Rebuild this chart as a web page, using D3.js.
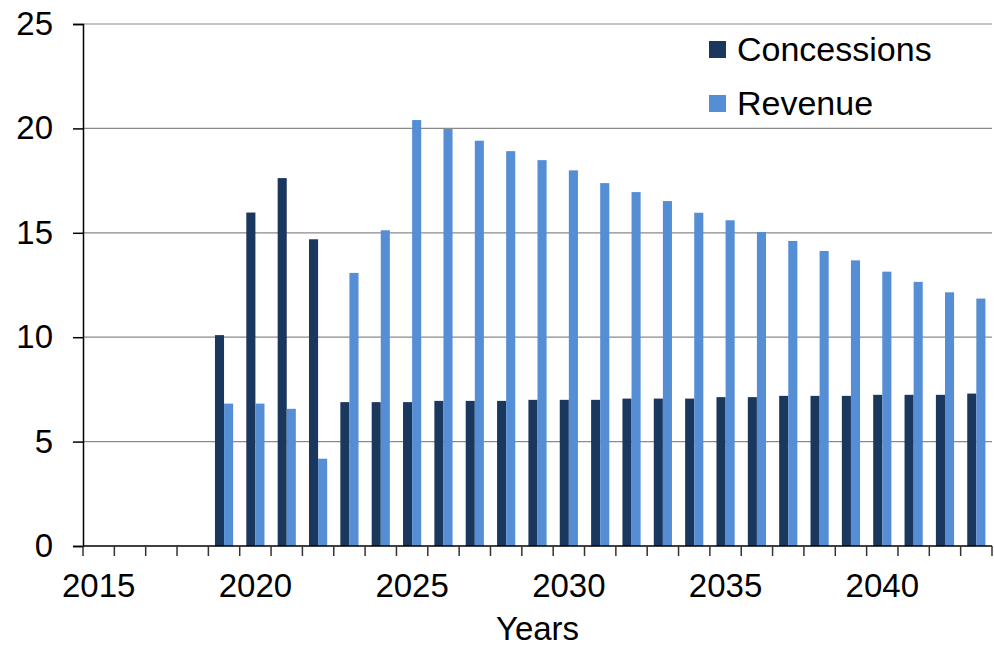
<!DOCTYPE html>
<html>
<head>
<meta charset="utf-8">
<script src="https://cdn.jsdelivr.net/npm/d3@7"></script>
<style>
  body { margin: 0; background: #fff; }
  svg text { font-family: "Liberation Sans", Arial, sans-serif; fill: #000; }
</style>
</head>
<body>
<svg id="chart"></svg>
<script>
const years = d3.range(2015, 2044);
const concessions = [null, null, null, null, 10.1, 15.97, 17.62, 14.69, 6.89, 6.89,
  6.89, 6.95, 6.95, 6.95, 7.0, 7.0, 7.0, 7.06, 7.06, 7.06,
  7.13, 7.13, 7.19, 7.19, 7.19, 7.24, 7.24, 7.24, 7.3];
const revenue = [null, null, null, null, 6.82, 6.82, 6.57, 4.18, 13.08, 15.12,
  20.4, 19.97, 19.41, 18.91, 18.48, 17.99, 17.38, 16.95, 16.52, 15.96,
  15.6, 15.04, 14.61, 14.13, 13.68, 13.14, 12.65, 12.15, 11.85];
const yTicks = [0, 5, 10, 15, 20, 25];
const xLabels = [2015, 2020, 2025, 2030, 2035, 2040];
const seriesNames = ["Concessions", "Revenue"];
const colors = ["#1a375e", "#558ed5"];

function drawChart() {
  const width = 994, height = 648;
  const margin = { top: 24, right: 2, bottom: 102, left: 83 };
  const innerW = width - margin.left - margin.right;
  const innerH = height - margin.top - margin.bottom;

  const svg = d3.select("#chart").attr("width", width).attr("height", height);
  const g = svg.append("g").attr("transform", `translate(${margin.left},${margin.top})`);

  const x = d3.scaleBand().domain(years).range([0, innerW]).padding(0);
  const y = d3.scaleLinear().domain([0, 25]).range([innerH, 0]);
  const bw = x.bandwidth() * 0.29;

  // gridlines
  g.append("g").selectAll("line")
    .data(yTicks.filter(d => d > 0))
    .join("line")
    .attr("x1", 0).attr("x2", innerW)
    .attr("y1", d => y(d)).attr("y2", d => y(d))
    .attr("stroke", "#8a8a8a").attr("stroke-width", 1.2);

  // bars
  const rows = years.map((yr, i) => ({ year: yr, vals: [concessions[i], revenue[i]] }));
  const groups = g.append("g").selectAll("g")
    .data(rows)
    .join("g")
    .attr("transform", d => `translate(${x(d.year) + x.bandwidth() / 2},0)`);
  groups.selectAll("rect")
    .data(d => d.vals.map((v, k) => ({ v, k })).filter(e => e.v != null))
    .join("rect")
    .attr("x", e => e.k === 0 ? -bw : 0)
    .attr("width", bw)
    .attr("y", e => y(e.v))
    .attr("height", e => y(0) - y(e.v))
    .attr("fill", e => colors[e.k]);

  // y axis
  const yAxis = g.append("g")
    .call(d3.axisLeft(y).tickValues(yTicks).tickSize(10).tickPadding(20).tickFormat(d3.format("d")));
  yAxis.select(".domain").attr("stroke", "#000").attr("stroke-width", 1.5);
  yAxis.selectAll(".tick line").attr("stroke", "#000").attr("stroke-width", 1.5);
  yAxis.selectAll("text").style("font-size", "33px").attr("fill", "#000");

  // x axis: ticks at category boundaries
  const xg = g.append("g").attr("transform", `translate(0,${innerH})`);
  xg.append("line").attr("x1", 0).attr("x2", innerW)
    .attr("stroke", "#000").attr("stroke-width", 1.5);
  const bounds = years.map(d => x(d)).concat([innerW]);
  xg.selectAll(".xt").data(bounds).join("line")
    .attr("class", "xt")
    .attr("x1", d => d).attr("x2", d => d)
    .attr("y1", 0).attr("y2", 10)
    .attr("stroke", "#333").attr("stroke-width", 1.5);
  xg.selectAll(".xl").data(xLabels).join("text")
    .attr("class", "xl")
    .attr("x", d => x(d) + x.bandwidth() / 2)
    .attr("y", 51)
    .attr("text-anchor", "middle")
    .style("font-size", "33px")
    .text(d => d);

  svg.append("text")
    .attr("x", margin.left + innerW / 2)
    .attr("y", 640)
    .attr("text-anchor", "middle")
    .style("font-size", "33px")
    .text("Years");

  // legend
  const legend = svg.append("g").attr("transform", "translate(709,0)");
  const items = legend.selectAll("g").data(seriesNames).join("g")
    .attr("transform", (d, i) => `translate(0,${41 + i * 54})`);
  items.append("rect").attr("width", 17).attr("height", 17)
    .attr("fill", (d, i) => colors[i]);
  items.append("text").attr("x", 28).attr("y", 20)
    .style("font-size", "34px")
    .text(d => d);
}

drawChart();
</script>
</body>
</html>
